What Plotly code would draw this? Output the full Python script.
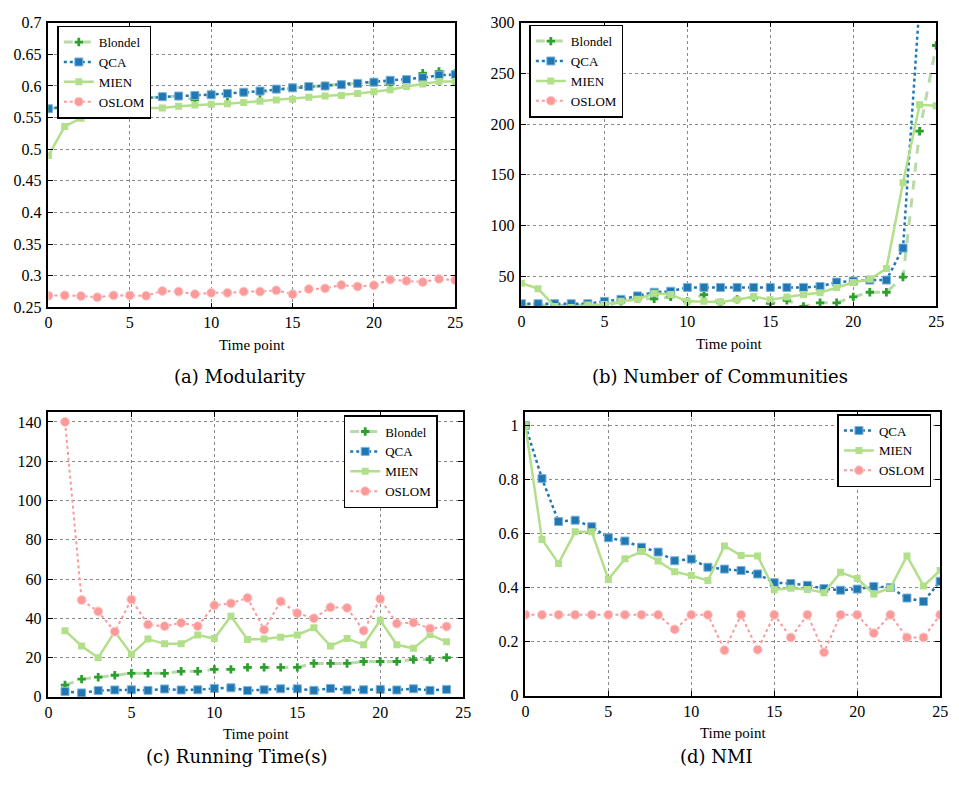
import plotly.graph_objects as go

W, H = 959, 790

# ---------------- data ----------------
t_all = list(range(26))
t_run = list(range(1, 25))

# (a) Modularity
mod_blondel = [0.564, 0.567, 0.559, 0.574, 0.576, 0.580, 0.581, 0.583, 0.584, 0.578, 0.586, 0.583,
               0.590, 0.588, 0.595, 0.597, 0.599, 0.600, 0.602, 0.604, 0.606, 0.603, 0.610, 0.620,
               0.623, 0.620]
mod_qca = [0.564, 0.567, 0.570, 0.574, 0.576, 0.580, 0.581, 0.583, 0.584, 0.585, 0.586, 0.588,
           0.590, 0.592, 0.595, 0.597, 0.599, 0.600, 0.602, 0.604, 0.606, 0.609, 0.610, 0.613,
           0.617, 0.618]
mod_mien = [0.490, 0.536, 0.549, 0.555, 0.557, 0.562, 0.565, 0.565, 0.568, 0.570, 0.571, 0.572,
            0.574, 0.576, 0.578, 0.579, 0.582, 0.584, 0.585, 0.588, 0.591, 0.594, 0.599, 0.603,
            0.607, 0.607]
mod_oslom = [0.2685, 0.269, 0.268, 0.266, 0.269, 0.269, 0.2685, 0.276, 0.275, 0.271, 0.273, 0.273,
             0.275, 0.275, 0.277, 0.271, 0.279, 0.280, 0.2855, 0.283, 0.285, 0.294, 0.292, 0.290,
             0.295, 0.293]

# (b) Number of communities
nc_blondel = [22, 22, 20, 22, 21, 19.5, 25, 27.5, 27.5, 29.4, 25, 31.7, 23.6, 27, 29, 23, 26, 20,
              23.6, 23.6, 29.4, 34, 34, 49, 193, 277.5]
nc_qca = [22.7, 22.7, 22.7, 22.7, 22.7, 25, 27, 30.4, 34, 35, 38.8, 38.8, 38.8, 38.8, 38.8, 38.8,
          38.8, 38.8, 39.7, 44, 45, 46, 46, 77.6, 320, 350]
nc_mien = [43, 37.5, 20, 19, 21.4, 22, 25, 27, 33, 31.7, 25, 25, 24.3, 26.5, 29.8, 26.5, 29.4,
           31.7, 33.6, 38.8, 43.6, 46.8, 57.4, 142, 219, 218]
nc_oslom = []

# (c) Running time (s)
rt_blondel = [6, 9, 10, 11, 12, 12, 12, 13, 13, 14, 14, 15, 15, 15, 15, 17, 17, 17, 18, 18, 18,
              19, 19, 20]
rt_qca = [2.7, 2.0, 3.2, 3.5, 3.6, 3.3, 4.0, 3.5, 3.6, 4.3, 4.6, 3.2, 3.6, 4.1, 4.1, 3.3, 4.3, 3.5,
          3.6, 3.8, 3.5, 4.1, 3.3, 3.8]
rt_mien = [33.7, 25.9, 19.9, 33.2, 21.7, 29.4, 27, 27, 31.5, 29.7, 41.1, 29.2, 29.4, 30.4, 31.5,
           35.2, 25.9, 29.7, 26.5, 39, 26.5, 24.7, 31.7, 28]
rt_oslom = [140, 49.3, 43.5, 33.2, 49.6, 36.8, 36, 37.7, 36, 46.6, 47.6, 50.4, 34.2, 48.6, 42.6, 40,
            45.6, 45.3, 33.7, 49.9, 37.3, 37.8, 34.8, 35.8]

# (d) NMI
nmi_qca = [1.0, 0.804, 0.645, 0.650, 0.626, 0.585, 0.573, 0.550, 0.532, 0.500, 0.506, 0.476, 0.469,
           0.464, 0.451, 0.419, 0.416, 0.409, 0.397, 0.391, 0.395, 0.405, 0.401, 0.362, 0.349, 0.424]
nmi_mien = [1.0, 0.579, 0.490, 0.607, 0.607, 0.431, 0.507, 0.534, 0.499, 0.459, 0.445, 0.427, 0.555,
            0.519, 0.518, 0.393, 0.398, 0.394, 0.382, 0.457, 0.434, 0.377, 0.399, 0.518, 0.407, 0.464]
nmi_oslom = [0.3, 0.3, 0.3, 0.3, 0.3, 0.3, 0.3, 0.3, 0.3, 0.246, 0.3, 0.3, 0.169, 0.3, 0.171, 0.3,
             0.216, 0.3, 0.161, 0.3, 0.3, 0.232, 0.3, 0.216, 0.216, 0.3]

captions = ["(a) Modularity", "(b) Number of Communities", "(c) Running Time(s)", "(d) NMI"]
x_title = "Time point"

# ---------------- styles ----------------
FONT = "Liberation Serif, Times New Roman, serif"
CAP_FONT = "DejaVu Serif, serif"
C_BLONDEL_LINE = "rgba(160,205,140,0.75)"
C_BLONDEL_MK = "#2ca02c"
C_QCA = "#1f78b4"
C_MIEN = "#b2df8a"
C_OSLOM = "#fb9a99"


def px(x): return x / W
def py(y): return 1 - y / H


panels = {
    "a": dict(x=(45, 457), y=(15, 306)),
    "b": dict(x=(524, 944), y=(15, 305)),
    "c": dict(x=(45, 465), y=(413, 704)),
    "d": dict(x=(528, 948), y=(413, 703)),
}

fig = go.Figure()


def add_series(name, x, y, xa, ya, leg, kind):
    common = dict(x=x, y=y, name=name, xaxis=xa, yaxis=ya, legend=leg, mode="lines+markers",
                  cliponaxis=True)
    if kind == "blondel":
        fig.add_trace(go.Scatter(**common,
                                 line=dict(color=C_BLONDEL_LINE, width=3, dash="dash"),
                                 marker=dict(symbol="cross", size=7, color=C_BLONDEL_MK)))
    elif kind == "qca":
        fig.add_trace(go.Scatter(**common,
                                 line=dict(color=C_QCA, width=2.5, dash="dot"),
                                 marker=dict(symbol="square", size=8, color=C_QCA,
                                             line=dict(color="#7fb2d8", width=1))))
    elif kind == "mien":
        fig.add_trace(go.Scatter(**common,
                                 line=dict(color=C_MIEN, width=2.5),
                                 marker=dict(symbol="square", size=7, color=C_MIEN)))
    elif kind == "oslom":
        fig.add_trace(go.Scatter(**common,
                                 line=dict(color=C_OSLOM, width=2, dash="dot"),
                                 marker=dict(symbol="circle", size=9, color=C_OSLOM,
                                             line=dict(color="#fdd0cf", width=1))))


add_series("Blondel", t_all, mod_blondel, "x", "y", "legend", "blondel")
add_series("QCA", t_all, mod_qca, "x", "y", "legend", "qca")
add_series("MIEN", t_all, mod_mien, "x", "y", "legend", "mien")
add_series("OSLOM", t_all, mod_oslom, "x", "y", "legend", "oslom")

add_series("Blondel", t_all, nc_blondel, "x2", "y2", "legend2", "blondel")
add_series("QCA", t_all, nc_qca, "x2", "y2", "legend2", "qca")
add_series("MIEN", t_all, nc_mien, "x2", "y2", "legend2", "mien")
add_series("OSLOM", [None], [None], "x2", "y2", "legend2", "oslom")

add_series("Blondel", t_run, rt_blondel, "x3", "y3", "legend3", "blondel")
add_series("QCA", t_run, rt_qca, "x3", "y3", "legend3", "qca")
add_series("MIEN", t_run, rt_mien, "x3", "y3", "legend3", "mien")
add_series("OSLOM", t_run, rt_oslom, "x3", "y3", "legend3", "oslom")

add_series("QCA", t_all, nmi_qca, "x4", "y4", "legend4", "qca")
add_series("MIEN", t_all, nmi_mien, "x4", "y4", "legend4", "mien")
add_series("OSLOM", t_all, nmi_oslom, "x4", "y4", "legend4", "oslom")

axis_common = dict(showline=True, linecolor="black", linewidth=1.5, mirror="ticks",
                   ticks="inside", ticklen=5, tickcolor="black",
                   showgrid=True, gridcolor="#8a8a8a", griddash="dot", gridwidth=1,
                   zeroline=False, tickfont=dict(family=FONT, size=16, color="black"))

yconf = {
    "a": dict(range=[0.25, 0.7], tickvals=[0.25, 0.3, 0.35, 0.4, 0.45, 0.5, 0.55, 0.6, 0.65, 0.7],
              ticktext=["0.25", "0.3", "0.35", "0.4", "0.45", "0.5", "0.55", "0.6", "0.65", "0.7"]),
    "b": dict(range=[20, 300], tickvals=[50, 100, 150, 200, 250, 300]),
    "c": dict(range=[0, 145], tickvals=[0, 20, 40, 60, 80, 100, 120, 140]),
    "d": dict(range=[0, 1.05], tickvals=[0, 0.2, 0.4, 0.6, 0.8, 1],
              ticktext=["0", "0.2", "0.4", "0.6", "0.8", "1"]),
}

layout = dict(width=W, height=H, margin=dict(l=0, r=0, t=0, b=0),
              paper_bgcolor="white", plot_bgcolor="white", showlegend=True)

names = ["a", "b", "c", "d"]
for i, k in enumerate(names):
    suf = "" if i == 0 else str(i + 1)
    p = panels[k]
    layout["xaxis" + suf] = dict(**axis_common, domain=[px(p["x"][0]), px(p["x"][1])],
                                 anchor="y" + suf, range=[0, 25], tickvals=[0, 5, 10, 15, 20, 25],
                                 title=dict(text=x_title, font=dict(family=FONT, size=15, color="black"),
                                            standoff=9))
    layout["yaxis" + suf] = dict(**axis_common, domain=[py(p["y"][1]), py(p["y"][0])],
                                 anchor="x" + suf, ticklabelstandoff=2, **yconf[k])

leg_common = dict(bgcolor="white", bordercolor="black", borderwidth=1.5,
                  font=dict(family=FONT, size=13, color="black"),
                  xanchor="left", yanchor="top", tracegroupgap=0, itemwidth=30)
layout["legend"] = dict(**leg_common, x=px(54), y=py(18))
layout["legend2"] = dict(**leg_common, x=px(532), y=py(17))
layout["legend3"] = dict(**leg_common, x=px(344), y=py(416))
layout["legend4"] = dict(**leg_common, x=px(844), y=py(415))

ann = []
cap_pos = [(239, 377), (725, 377), (236, 765), (722, 765)]
for txt, (cx, cy) in zip(captions, cap_pos):
    ann.append(dict(text=txt, x=px(cx), y=py(cy), xref="paper", yref="paper", showarrow=False,
                    xanchor="center", yanchor="middle",
                    font=dict(family=CAP_FONT, size=18, color="black")))
layout["annotations"] = ann

fig.update_layout(**layout)
fig.write_html("out.html", config={"displayModeBar": False},
               post_script="document.body.style.margin='0';")
